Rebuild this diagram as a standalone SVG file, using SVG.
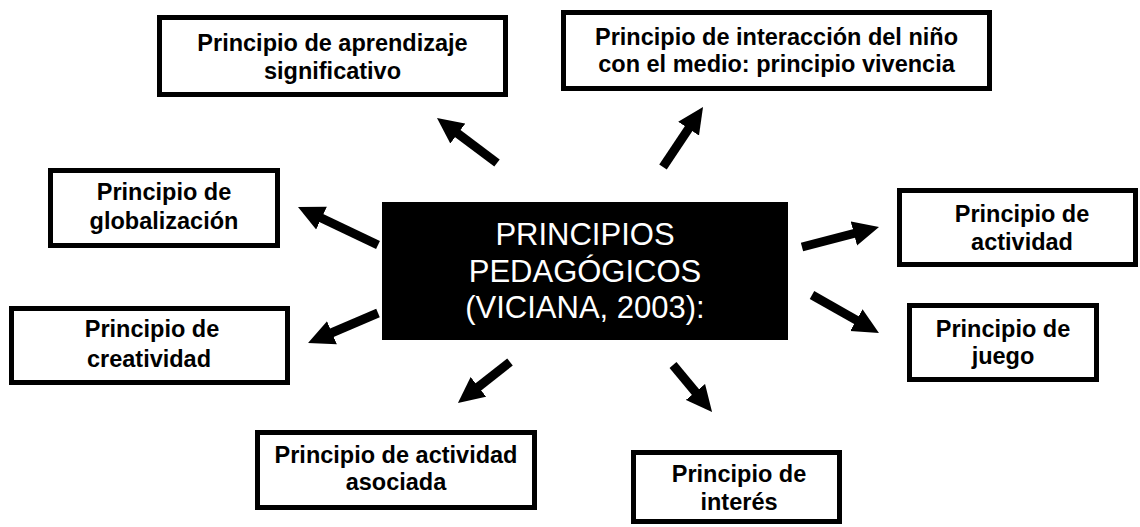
<svg xmlns="http://www.w3.org/2000/svg" width="1140" height="527" viewBox="0 0 1140 527">
<style>
.box{fill:#fff;stroke:#000;stroke-width:5}
.lbl{font-family:"Liberation Sans",Arial,sans-serif;font-weight:bold;font-size:23.5px;fill:#000;text-anchor:middle}
.ctr{font-family:"Liberation Sans",Arial,sans-serif;font-size:31px;fill:#fff;text-anchor:middle}
.arr{stroke:#000;stroke-width:9;fill:none;marker-end:url(#ah)}
</style>
<defs>
<marker id="ah" markerUnits="userSpaceOnUse" markerWidth="26" markerHeight="26" refX="2" refY="13" orient="auto" viewBox="0 0 26 26">
<path d="M0,0.5 L26,13 L0,25.5 z" fill="#000"/>
</marker>
</defs>
<rect width="1140" height="527" fill="#fff"/>
<g id="center">
<rect x="382" y="202" width="406" height="138" fill="#000"/>
<text class="ctr" x="585" y="245">PRINCIPIOS</text>
<text class="ctr" x="585" y="282">PEDAGÓGICOS</text>
<text class="ctr" x="585" y="318">(VICIANA, 2003):</text>
</g>
<g id="aprendizaje">
<rect class="box" x="159.5" y="17.5" width="346" height="77"/>
<text class="lbl" x="332.5" y="51">Principio de aprendizaje</text>
<text class="lbl" x="332.5" y="79">significativo</text>
</g>
<g id="interaccion">
<rect class="box" x="563.5" y="12.5" width="426" height="76"/>
<text class="lbl" x="776.5" y="45">Principio de interacción del niño</text>
<text class="lbl" x="776.5" y="72">con el medio: principio vivencia</text>
</g>
<g id="globalizacion">
<rect class="box" x="50.5" y="170.5" width="227" height="75"/>
<text class="lbl" x="164" y="200">Principio de</text>
<text class="lbl" x="164" y="229">globalización</text>
</g>
<g id="creatividad">
<rect class="box" x="11.5" y="308.5" width="276" height="74"/>
<text class="lbl" x="152" y="337">Principio de</text>
<text class="lbl" x="149" y="367">creatividad</text>
</g>
<g id="actividad">
<rect class="box" x="899.5" y="190.5" width="236" height="74"/>
<text class="lbl" x="1022" y="222">Principio de</text>
<text class="lbl" x="1022" y="250">actividad</text>
</g>
<g id="juego">
<rect class="box" x="909.5" y="305.5" width="187" height="74"/>
<text class="lbl" x="1003" y="337">Principio de</text>
<text class="lbl" x="1003" y="364">juego</text>
</g>
<g id="asociada">
<rect class="box" x="257.5" y="432.5" width="277" height="75"/>
<text class="lbl" x="396" y="463">Principio de actividad</text>
<text class="lbl" x="396" y="490">asociada</text>
</g>
<g id="interes">
<rect class="box" x="633.5" y="452.5" width="206" height="69"/>
<text class="lbl" x="739" y="482">Principio de</text>
<text class="lbl" x="739" y="510">interés</text>
</g>
<g id="connectors">
<line class="arr" x1="497" y1="163" x2="456.2" y2="132.4"/>
<line class="arr" x1="663" y1="167" x2="689.7" y2="127"/>
<line class="arr" x1="378" y1="245" x2="319.7" y2="217.3"/>
<line class="arr" x1="378" y1="313" x2="330.1" y2="333.5"/>
<line class="arr" x1="802" y1="247" x2="855.8" y2="233"/>
<line class="arr" x1="812" y1="295" x2="858.1" y2="321.2"/>
<line class="arr" x1="510" y1="362" x2="476.8" y2="388.1"/>
<line class="arr" x1="673" y1="365" x2="696.7" y2="393.5"/>
</g>
</svg>
